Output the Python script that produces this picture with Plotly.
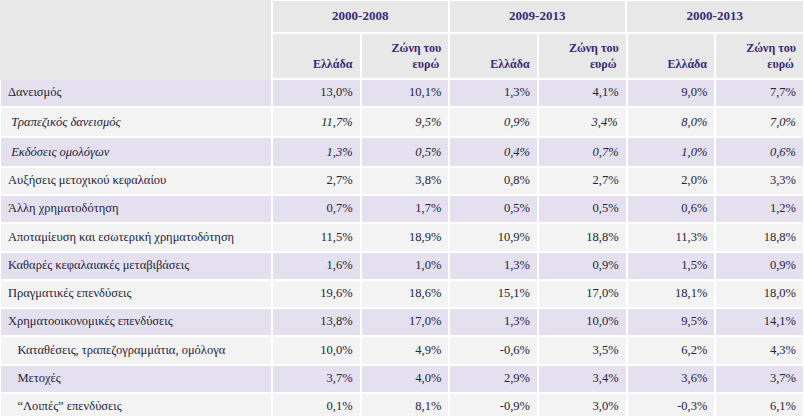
import plotly.graph_objects as go

periodos = ["2000-2008", "2009-2013", "2000-2013"]
perioxes = ["Ελλάδα", "Ζώνη του<br>ευρώ"]

grammes = [
    "Δανεισμός",
    "Τραπεζικός δανεισμός",
    "Εκδόσεις ομολόγων",
    "Αυξήσεις μετοχικού κεφαλαίου",
    "Άλλη χρηματοδότηση",
    "Αποταμίευση και εσωτερική χρηματοδότηση",
    "Καθαρές κεφαλαιακές μεταβιβάσεις",
    "Πραγματικές επενδύσεις",
    "Χρηματοοικονομικές επενδύσεις",
    "Καταθέσεις, τραπεζογραμμάτια, ομόλογα",
    "Μετοχές",
    "“Λοιπές” επενδύσεις",
]
esoxi = [0, 1, 1, 0, 0, 0, 0, 0, 0, 3, 3, 3]
plagia = [False, True, True, False, False, False, False, False, False, False, False, False]

ellada_0008 = [13.0, 11.7, 1.3, 2.7, 0.7, 11.5, 1.6, 19.6, 13.8, 10.0, 3.7, 0.1]
evro_0008 = [10.1, 9.5, 0.5, 3.8, 1.7, 18.9, 1.0, 18.6, 17.0, 4.9, 4.0, 8.1]
ellada_0913 = [1.3, 0.9, 0.4, 0.8, 0.5, 10.9, 1.3, 15.1, 1.3, -0.6, 2.9, -0.9]
evro_0913 = [4.1, 3.4, 0.7, 2.7, 0.5, 18.8, 0.9, 17.0, 10.0, 3.5, 3.4, 3.0]
ellada_0013 = [9.0, 8.0, 1.0, 2.0, 0.6, 11.3, 1.5, 18.1, 9.5, 6.2, 3.6, -0.3]
evro_0013 = [7.7, 7.0, 0.6, 3.3, 1.2, 18.8, 0.9, 18.0, 14.1, 4.3, 3.7, 6.1]

W, H = 804, 416
h1, h2, hrow = 33, 44, 28.25

header_fill = "#e8e8e8"
lavender = "#e4e0ef"
light = "#f3f3f3"
purple = "#3a2a78"
# sizes kept small enough that plotly does not grow the rows
font1 = dict(family="Liberation Serif", size=13, color=purple)
font2 = dict(family="Liberation Serif", size=12, color=purple)
body_font = dict(family="Liberation Serif", size=12.5, color="#24243a")


def plagio(s, i):
    return f"<i>{s}</i>" if plagia[i] else s


def pososto(v, i):
    return plagio(f"{v:.1f}".replace(".", ",") + "%", i)


def kefalida(p):
    # two-line header cells, bottom line right aligned by padding
    if "<br>" not in p:
        return f"<b>&nbsp;<br>{p}</b>"
    pano, kato = p.split("<br>")
    return f"<b>{pano}<br>{'&nbsp;' * 7}{kato}</b>"


onomata = [
    "\u00a0" * e + plagio(g.replace(" ", "\u00a0"), i)
    for i, (g, e) in enumerate(zip(grammes, esoxi))
]
stiles = [onomata] + [
    [pososto(v, i) for i, v in enumerate(seira)]
    for seira in [ellada_0008, evro_0008, ellada_0913, evro_0913, ellada_0013, evro_0013]
]
fills = [lavender if i % 2 == 0 else light for i in range(len(grammes))]

fig = go.Figure()

# first header row (periods spanning two columns); the tiny cell row hides under the body table
fig.add_trace(go.Table(
    domain=dict(x=[0, 1], y=[1 - (h1 + 3) / H, 1]),
    columnwidth=[272, 177, 177, 178],
    header=dict(
        values=[""] + [f"<b>{p}</b>" for p in periodos],
        fill_color=header_fill,
        line=dict(color=[header_fill, "white", "white", "white"], width=2),
        align="center",
        font=font1,
        height=h1,
    ),
    cells=dict(
        values=[[""]] * 4,
        fill_color=header_fill,
        line=dict(color=header_fill, width=1),
        height=2,
    ),
))

# second header row and body
fig.add_trace(go.Table(
    domain=dict(x=[0, 1], y=[0, 1 - h1 / H]),
    columnwidth=[272] + [88.67] * 6,
    header=dict(
        values=[""] + [kefalida(p) for p in perioxes] * 3,
        fill_color=header_fill,
        line=dict(color=[header_fill] + ["white"] * 6, width=2),
        align="right",
        font=font2,
        height=h2,
    ),
    cells=dict(
        values=stiles,
        fill_color=[fills] * 7,
        line=dict(color="white", width=2),
        align=["left"] + ["right"] * 6,
        font=body_font,
        height=hrow,
    ),
))

fig.update_layout(
    width=W,
    height=H,
    margin=dict(l=0, r=0, t=0, b=0),
    paper_bgcolor="white",
)

fig.write_html(
    "out.html",
    config={"displayModeBar": False},
    post_script="document.body.style.margin='0';",
)
